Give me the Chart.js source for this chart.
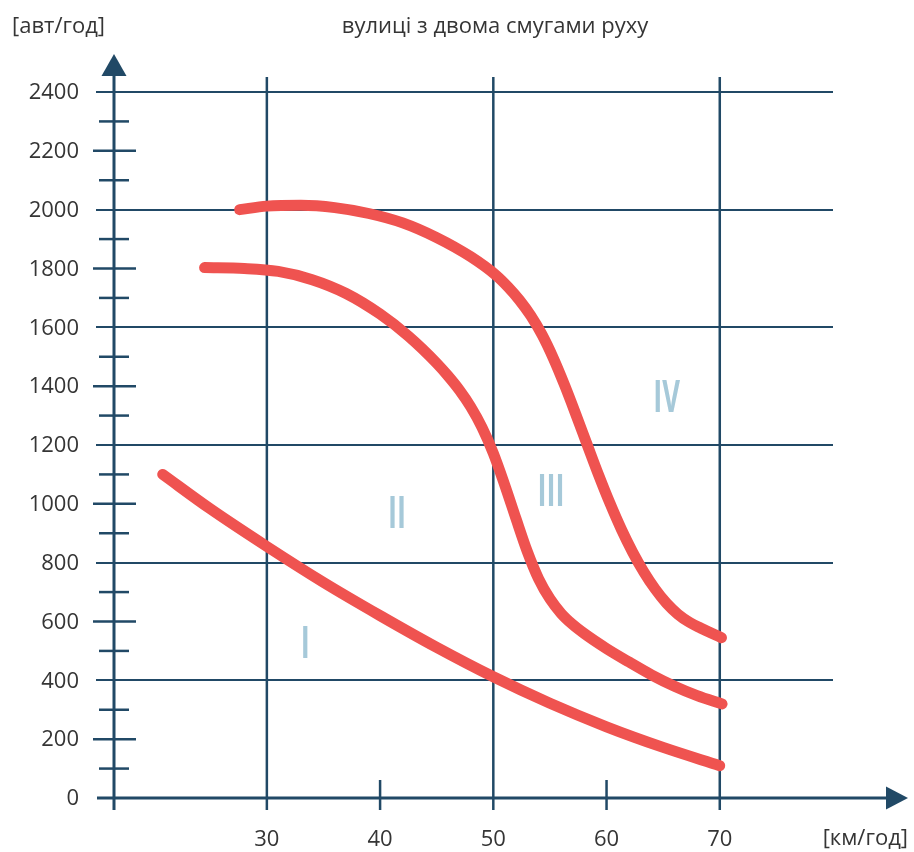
<!DOCTYPE html>
<html>
<head>
<meta charset="utf-8">
<script src="https://cdn.jsdelivr.net/npm/chart.js@4"></script>
<style>
  html, body { margin: 0; padding: 0; background: #ffffff; }
  #wrap { width: 914px; height: 852px; position: relative; }
</style>
</head>
<body>
<div id="wrap"><canvas id="c" width="914" height="852"></canvas></div>
<script>
// ---- data (speed km/h, flow veh/h) ----
const curveISpeed   = [20.8, 25, 30, 35, 40, 45, 50, 55, 60, 65, 70];
const curveIFlow    = [1100, 983, 855, 733, 620, 512, 412, 322, 242, 172, 110];

const curveIISpeed  = [24.5, 28, 31, 34, 37, 40, 42.5, 45, 46, 47, 48, 49, 50, 51, 52, 53, 54, 55, 56, 57, 58, 60, 62, 64, 66, 68, 70.2];
const curveIIFlow   = [1803, 1800, 1790, 1762, 1715, 1645, 1570, 1478, 1435, 1387, 1330, 1260, 1172, 1065, 950, 838, 745, 677, 627, 590, 560, 508, 462, 418, 380, 348, 320];

const curveIIISpeed = [27.6, 30, 33, 36, 39, 42, 45, 48, 50.3, 51.3, 52.3, 53.3, 54.3, 55.3, 56.3, 57.3, 58.3, 59.3, 60.3, 61.3, 62.3, 63.3, 64.3, 65.3, 66.3, 67.3, 68.3, 70.15];
const curveIIIFlow  = [2000, 2012, 2015, 2007, 1987, 1955, 1905, 1840, 1775, 1737, 1693, 1640, 1575, 1495, 1403, 1303, 1200, 1098, 1002, 914, 836, 768, 710, 662, 625, 598, 578, 545];

const xTickLabels = [30, 40, 50, 60, 70];
const xGridValues = [30, 50, 70];
const yTickLabels = [0, 200, 400, 600, 800, 1000, 1200, 1400, 1600, 1800, 2000, 2200, 2400];
const yGridValues = [400, 800, 1200, 1600, 2000, 2400];
const yMinorTicks = [100, 300, 500, 700, 900, 1100, 1300, 1500, 1700, 1900, 2100, 2300];

const regionNames  = ['I', 'II', 'III', 'IV'];
const regionSpeeds = [33.4, 41.5, 55.1, 65.3];
const regionFlows  = [526, 968, 1042, 1362];

const titleText = 'вулиці з двома смугами руху';
const yUnitText = '[авт/год]';
const xUnitText = '[км/год]';

// ---- styles ----
const NAVY = '#214966';
const RED = '#ef5350';
const LIGHT = '#a6c9d9';
const TEXT = '#353535';
const FONT = '"Open Sans", "DejaVu Sans", sans-serif';

function toPoints(xs, ys) { return xs.map((v, i) => ({ x: v, y: ys[i] })); }

const axesPlugin = {
  id: 'customAxes',
  beforeDatasetsDraw(chart) {
    const { ctx, chartArea: a, scales: { x, y } } = chart;
    ctx.save();
    ctx.strokeStyle = NAVY;
    ctx.fillStyle = NAVY;
    ctx.lineCap = 'butt';

    // horizontal grid lines
    ctx.lineWidth = 2;
    yGridValues.forEach(v => {
      const py = Math.round(y.getPixelForValue(v));
      ctx.beginPath(); ctx.moveTo(a.left - 18, py); ctx.lineTo(a.right, py); ctx.stroke();
    });
    // vertical grid lines
    ctx.lineWidth = 2.5;
    xGridValues.forEach(v => {
      const px = x.getPixelForValue(v);
      ctx.beginPath(); ctx.moveTo(px, a.top - 15); ctx.lineTo(px, a.bottom + 12); ctx.stroke();
    });
    // x minor ticks (40, 60)
    xTickLabels.filter(v => !xGridValues.includes(v)).forEach(v => {
      const px = x.getPixelForValue(v);
      ctx.beginPath(); ctx.moveTo(px, a.bottom - 18); ctx.lineTo(px, a.bottom + 12); ctx.stroke();
    });
    // y ticks
    ctx.lineWidth = 2.5;
    yTickLabels.filter(v => !yGridValues.includes(v) && v !== 0).forEach(v => {
      const py = y.getPixelForValue(v);
      ctx.beginPath(); ctx.moveTo(a.left - 21, py); ctx.lineTo(a.left + 22, py); ctx.stroke();
    });
    yMinorTicks.forEach(v => {
      const py = y.getPixelForValue(v);
      ctx.beginPath(); ctx.moveTo(a.left - 15, py); ctx.lineTo(a.left + 15, py); ctx.stroke();
    });

    // y axis with arrow
    const y0 = y.getPixelForValue(0);
    ctx.lineWidth = 3;
    ctx.beginPath(); ctx.moveTo(a.left, a.bottom + 12); ctx.lineTo(a.left, a.top - 20); ctx.stroke();
    ctx.beginPath();
    ctx.moveTo(a.left, a.top - 38);
    ctx.lineTo(a.left - 12.5, a.top - 16);
    ctx.lineTo(a.left + 12.5, a.top - 16);
    ctx.closePath(); ctx.fill();

    // x axis with arrow
    ctx.beginPath(); ctx.moveTo(a.left - 17, y0); ctx.lineTo(a.right + 57, y0); ctx.stroke();
    ctx.beginPath();
    ctx.moveTo(a.right + 75, y0);
    ctx.lineTo(a.right + 53, y0 - 11.5);
    ctx.lineTo(a.right + 53, y0 + 11.5);
    ctx.closePath(); ctx.fill();

    // tick labels
    ctx.fillStyle = TEXT;
    ctx.font = '22px ' + FONT;
    ctx.textAlign = 'right';
    ctx.textBaseline = 'middle';
    yTickLabels.forEach(v => {
      ctx.fillText(String(v), a.left - 35, y.getPixelForValue(v) + 1);
    });
    ctx.textAlign = 'center';
    xTickLabels.forEach(v => {
      ctx.fillText(String(v), x.getPixelForValue(v), a.bottom + 42);
    });
    ctx.textAlign = 'right';
    ctx.fillText(xUnitText, a.right + 75, a.bottom + 41);
    ctx.textAlign = 'left';
    ctx.fillText(yUnitText, 12, 27);
    ctx.textAlign = 'center';
    ctx.fillText(titleText, 495, 27);
    ctx.restore();
  },
  afterDatasetsDraw(chart) {
    const { ctx, scales: { x, y } } = chart;
    ctx.save();
    ctx.fillStyle = LIGHT;
    ctx.font = 'bold 44px ' + FONT;
    ctx.textAlign = 'center';
    ctx.textBaseline = 'middle';
    regionNames.forEach((t, i) => {
      const px = x.getPixelForValue(regionSpeeds[i]);
      const py = y.getPixelForValue(regionFlows[i]);
      ctx.save();
      ctx.translate(px, py);
      ctx.scale(0.62, 1);
      ctx.fillText(t, 0, 2);
      ctx.restore();
    });
    ctx.restore();
  }
};

const lineStyle = {
  borderColor: RED,
  borderWidth: 11,
  borderCapStyle: 'round',
  borderJoinStyle: 'round',
  pointRadius: 0,
  fill: false,
  cubicInterpolationMode: 'monotone',
  clip: false
};

new Chart(document.getElementById('c'), {
  type: 'line',
  data: {
    datasets: [
      Object.assign({ label: 'I', data: toPoints(curveISpeed, curveIFlow) }, lineStyle),
      Object.assign({ label: 'II', data: toPoints(curveIISpeed, curveIIFlow) }, lineStyle),
      Object.assign({ label: 'III', data: toPoints(curveIIISpeed, curveIIIFlow) }, lineStyle)
    ]
  },
  options: {
    responsive: false,
    animation: false,
    devicePixelRatio: 1,
    layout: { padding: { left: 114, right: 81, top: 92, bottom: 54 } },
    plugins: { legend: { display: false }, title: { display: false }, tooltip: { enabled: false } },
    scales: {
      x: { type: 'linear', min: 16.5, max: 80, display: false },
      y: { type: 'linear', min: 0, max: 2400, display: false }
    }
  },
  plugins: [axesPlugin]
});
</script>
</body>
</html>
